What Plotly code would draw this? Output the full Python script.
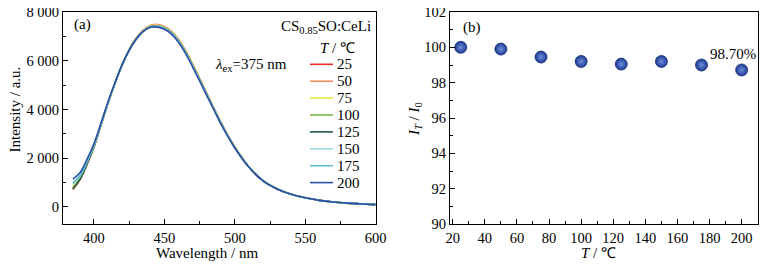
import plotly.graph_objects as go

# ---------- data ----------
wavelength = [385, 390, 395, 400, 405, 410, 415, 420, 425, 430, 435, 440, 445,
              450, 455, 460, 465, 470, 475, 480, 485, 490, 495, 500,
              510, 520, 530, 540, 550, 560, 570, 580, 590, 600]

temps_label = ["25", "50", "75", "100", "125", "150", "175", "200"]

I_25 = [720, 1110, 1740, 2470, 3370, 4270, 5090, 5830, 6450, 6920, 7250, 7430, 7470,
        7390, 7190, 6860, 6400, 5850, 5260, 4660, 4060, 3480, 2940, 2450,
        1640, 1080, 740, 520, 375, 270, 200, 155, 122, 95]
I_50 = [740, 1120, 1750, 2470, 3370, 4270, 5090, 5840, 6460, 6940, 7270, 7450, 7490,
        7410, 7210, 6880, 6420, 5870, 5280, 4680, 4080, 3490, 2950, 2460,
        1650, 1080, 740, 520, 375, 270, 200, 155, 122, 95]
I_75 = [830, 1180, 1780, 2490, 3380, 4270, 5090, 5830, 6440, 6910, 7240, 7410, 7450,
        7370, 7170, 6840, 6380, 5830, 5240, 4640, 4050, 3470, 2930, 2440,
        1640, 1080, 740, 520, 375, 270, 200, 155, 122, 95]
I_100 = [770, 1140, 1760, 2480, 3370, 4270, 5090, 5830, 6440, 6910, 7230, 7400, 7430,
         7350, 7150, 6820, 6360, 5810, 5230, 4630, 4040, 3460, 2920, 2440,
         1640, 1080, 740, 520, 375, 270, 200, 155, 122, 95]
I_125 = [750, 1130, 1750, 2470, 3370, 4270, 5090, 5830, 6440, 6900, 7220, 7390, 7420,
         7340, 7140, 6810, 6350, 5800, 5220, 4620, 4030, 3450, 2920, 2430,
         1640, 1070, 740, 520, 375, 270, 200, 155, 122, 95]
I_150 = [930, 1250, 1840, 2520, 3400, 4290, 5100, 5830, 6440, 6900, 7220, 7390, 7420,
         7340, 7140, 6810, 6350, 5800, 5220, 4620, 4030, 3450, 2920, 2430,
         1640, 1070, 740, 520, 375, 270, 200, 155, 122, 95]
I_175 = [980, 1290, 1870, 2540, 3410, 4300, 5100, 5830, 6430, 6890, 7210, 7380, 7400,
         7320, 7120, 6790, 6330, 5780, 5200, 4610, 4020, 3440, 2910, 2430,
         1640, 1070, 740, 520, 375, 270, 200, 155, 122, 95]
I_200 = [1140, 1400, 1950, 2600, 3450, 4330, 5120, 5840, 6430, 6880, 7200, 7370, 7380,
         7290, 7090, 6760, 6300, 5750, 5170, 4580, 4000, 3420, 2900, 2420,
         1630, 1070, 740, 520, 375, 270, 200, 155, 122, 95]

intensities = [I_25, I_50, I_75, I_100, I_125, I_150, I_175, I_200]

T_points = [25, 50, 75, 100, 125, 150, 175, 200]
ratio_points = [100.0, 99.9, 99.45, 99.2, 99.05, 99.2, 99.0, 98.72]

a_xticks = [400, 450, 500, 550, 600]
a_yticks = [0, 2000, 4000, 6000, 8000]
a_yticktext = ["0", "2 000", "4 000", "6 000", "8 000"]
b_xticks = [20, 40, 60, 80, 100, 120, 140, 160, 180, 200]
b_yticks = [90, 92, 94, 96, 98, 100, 102]

# ---------- style ----------
colors = ["#ee2a24", "#f29060", "#e8e83a", "#7cba45", "#1d5c45",
          "#9ad8e4", "#5fbccb", "#2c4fa3"]
FONT = "Liberation Serif, Times New Roman, serif"
OFF = 8                      # page body margin of the browser
W, H = 778 - 2 * OFF, 266 - OFF


def px(x):
    return (x - OFF) / W


def py(y):
    return 1 - (y - OFF) / H


fig = go.Figure()

for lab, ys, c in zip(temps_label, intensities, colors):
    fig.add_trace(go.Scatter(
        x=wavelength, y=ys, mode="lines", name=lab,
        line=dict(color=c, width=1.6, shape="spline", smoothing=1.0),
        xaxis="x", yaxis="y", showlegend=False))

fig.add_trace(go.Scatter(
    x=T_points, y=ratio_points, mode="markers", showlegend=False,
    marker=dict(size=12, color="#1d3a94",
                gradient=dict(type="radial", color="#6f8fdc"),
                line=dict(color="#132b72", width=0.8)),
    xaxis="x2", yaxis="y2"))

axis_common = dict(showline=True, linecolor="black", linewidth=1.2, mirror=True,
                   ticks="inside", ticklen=5, tickwidth=1, tickcolor="black",
                   showgrid=False, zeroline=False, automargin=False,
                   ticklabeloverflow="allow",
                   tickfont=dict(family=FONT, size=14.5, color="black"))


def note(text, x, y, xref="paper", yref="paper", xanchor="center", yanchor="middle",
         angle=0, size=15):
    return dict(text=text, x=x, y=y, xref=xref, yref=yref, xanchor=xanchor,
                yanchor=yanchor, textangle=angle, showarrow=False,
                font=dict(family=FONT, size=size, color="black"))


annotations = [
    note("(a)", 391.7, 7480, "x", "y"),
    note("<i>λ</i><sub>ex</sub>=375 nm", 484.5, 5840, "x", "y", xanchor="left"),
    note("(b)", 31.8, 101.15, "x2", "y2"),
    note("98.70%", 194.5, 99.62, "x2", "y2"),
    # axis titles
    note("Wavelength / nm", px(206.7), py(252.5)),
    note("Intensity / a.u.", px(14.5), py(110), angle=-90),
    note("<i>T</i> / ℃", px(598), py(252.5)),
    note("<i>I<sub>T</sub></i> / <i>I</i><sub>0</sub>", px(415), py(119), angle=-90),
    # legend header
    note("CS<sub>0.85</sub>SO:CeLi", px(372.5), py(27), xanchor="right"),
    note("<i>T</i> / ℃", px(337), py(48)),
]

shapes = []
for i, (lab, c) in enumerate(zip(temps_label, colors)):
    yy = 64.3 + i * 16.9
    shapes.append(dict(type="line", xref="paper", yref="paper",
                       x0=px(310), x1=px(333), y0=py(yy), y1=py(yy),
                       line=dict(color=c, width=1.6)))
    annotations.append(note(lab, px(334.5), py(yy), xanchor="left"))

fig.update_layout(
    width=W, height=H,
    margin=dict(l=0, r=0, t=0, b=0),
    paper_bgcolor="white", plot_bgcolor="white",
    font=dict(family=FONT, size=15, color="black"),
    showlegend=False,
    xaxis=dict(domain=[px(63), px(375.7)], range=[378, 600], tickvals=a_xticks,
               minor=dict(ticks="inside", ticklen=3, dtick=25, tickcolor="black"),
               anchor="y", **axis_common),
    yaxis=dict(domain=[py(224), py(12)], range=[-700, 8000], tickvals=a_yticks,
               ticktext=a_yticktext,
               minor=dict(ticks="inside", ticklen=3, dtick=1000, tickcolor="black"),
               anchor="x", **axis_common),
    xaxis2=dict(domain=[px(450), px(757.7)], range=[18.3, 210], tickvals=b_xticks,
                minor=dict(ticks="inside", ticklen=3, dtick=10, tickcolor="black"),
                anchor="y2", **axis_common),
    yaxis2=dict(domain=[py(224), py(12)], range=[90, 102], tickvals=b_yticks,
                minor=dict(ticks="inside", ticklen=3, dtick=1, tickcolor="black"),
                anchor="x2", **axis_common),
    annotations=annotations,
    shapes=shapes,
)

fig.write_html("out.html")
